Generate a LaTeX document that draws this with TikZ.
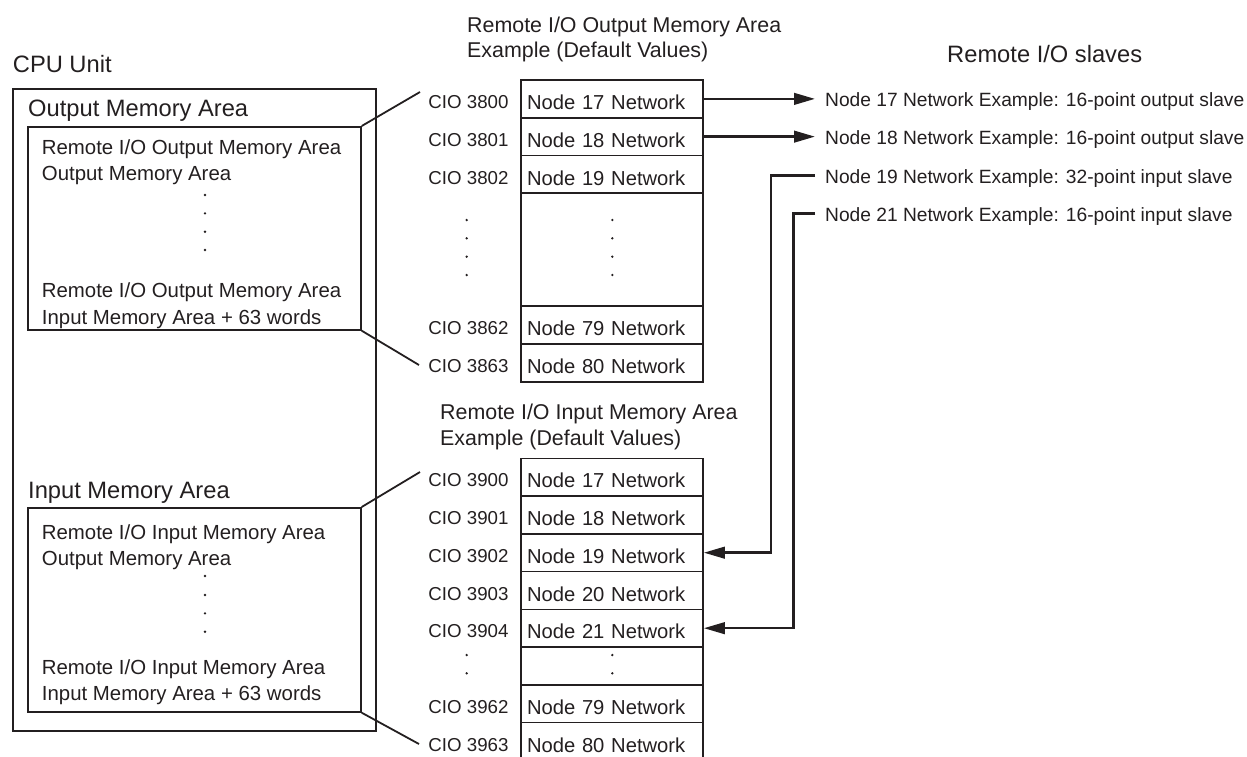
\documentclass[tikz,border=0pt]{standalone}
\usepackage{fontspec}
\setmainfont{Liberation Sans}
\usetikzlibrary{arrows.meta,positioning}
\definecolor{ink}{RGB}{35,31,32}
\newcommand\myfs[1]{\fontsize{#1}{#1}\selectfont}
\begin{document}
\begin{tikzpicture}[x=1pt,y=-1pt,color=ink,
  frame/.style={draw,line width=1.7pt,inner sep=0pt,anchor=north west},
  row/.style={draw,line width=1.6pt,minimum width=182pt,minimum height=37.75pt,
    inner xsep=0pt,inner ysep=0pt,text width=170pt,align=left,
    text height=21.6pt,text depth=0pt,font=\myfs{20.2}},
  cio/.style={inner sep=0pt,text height=19.4pt,text depth=0pt,font=\myfs{18.7},left=11.5pt of #1},
  head/.style={inner sep=0pt,anchor=base west,font=\myfs{23.7}},
  title/.style={inner sep=0pt,anchor=base west,font=\myfs{21.4}},
  inner/.style={inner sep=0pt,anchor=base west,font=\myfs{20.4}},
  slave/.style={anchor=west,inner xsep=10pt,inner ysep=0pt,text height=20pt,text depth=4pt,font=\myfs{19.2}},
  lead/.style={line width=1.8pt},
  conn/.style={line width=2.6pt},
  arr/.style={conn,-{Triangle[length=21pt,width=11.5pt]}},
  dot/.style={fill}
]
\useasboundingbox (0,0) rectangle (1247,756);

% ---------- CPU Unit ----------
\node[head] (cpulab) at (12.7,72) {CPU Unit};
\node[frame,minimum width=363pt,minimum height=642pt] (cpu) at (12,88) {};
\node[head] (outlab) at (28,116.5) {Output Memory Area};
\node[frame,minimum width=333pt,minimum height=203pt] (ib1) at (27,126) {};
\node[inner] (t11) at (41.7,154) {Remote I/O Output Memory Area};
\node[inner] (t12) at (41.7,180.6) {Output Memory Area};
\node[inner] (t13) at (41.7,297.3) {Remote I/O Output Memory Area};
\node[inner] (t14) at (41.7,324) {Input Memory Area + 63 words};
\foreach \y in {195,213.3,231.7,250} \fill[dot] (205,\y) circle (1.3);

\node[head] (inlab) at (28,498.5) {Input Memory Area};
\node[frame,minimum width=333pt,minimum height=204pt] (ib2) at (27,507) {};
\node[inner] (t21) at (41.7,539) {Remote I/O Input Memory Area};
\node[inner] (t22) at (41.7,565) {Output Memory Area};
\node[inner] (t23) at (41.7,674) {Remote I/O Input Memory Area};
\node[inner] (t24) at (41.7,700.6) {Input Memory Area + 63 words};
\foreach \y in {576,595,613.3,631.7} \fill[dot] (205,\y) circle (1.3);

% ---------- Output memory table ----------
\node[title] (ot1) at (467,32.7) {Remote I/O Output Memory Area};
\node[title] (ot2) at (467,57.7) {Example (Default Values)};
\node[row] (o1) at (612,98.875) {Node 17 Network};
\node[row] (o2) at (612,136.625) {Node 18 Network};
\node[row] (o3) at (612,174.375) {Node 19 Network};
\node[row,minimum height=113.25pt] (oD) at (612,249.875) {};
\node[row] (o4) at (612,325.125) {Node 79 Network};
\node[row] (o5) at (612,362.875) {Node 80 Network};
\node[cio=o1] (co1) {CIO 3800};
\node[cio=o2] (co2) {CIO 3801};
\node[cio=o3] (co3) {CIO 3802};
\node[cio=o4] (co4) {CIO 3862};
\node[cio=o5] (co5) {CIO 3863};
\foreach \y in {220,238.3,256.7,275} {
  \fill[dot] (466.7,\y) circle (1.3);
  \fill[dot] (612.3,\y) circle (1.3);
}

% ---------- Input memory table ----------
\node[title] (it1) at (440,419.4) {Remote I/O Input Memory Area};
\node[title] (it2) at (440,445) {Example (Default Values)};
\node[row] (i1) at (612,477.175) {Node 17 Network};
\node[row] (i2) at (612,514.925) {Node 18 Network};
\node[row] (i3) at (612,552.675) {Node 19 Network};
\node[row] (i4) at (612,590.425) {Node 20 Network};
\node[row] (i5) at (612,628.175) {Node 21 Network};
\node[row] (iD) at (612,665.925) {};
\node[row] (i6) at (612,703.675) {Node 79 Network};
\node[row] (i7) at (612,741.425) {Node 80 Network};
\node[cio=i1] (ci1) {CIO 3900};
\node[cio=i2] (ci2) {CIO 3901};
\node[cio=i3] (ci3) {CIO 3902};
\node[cio=i4] (ci4) {CIO 3903};
\node[cio=i5] (ci5) {CIO 3904};
\node[cio=i6] (ci6) {CIO 3962};
\node[cio=i7] (ci7) {CIO 3963};
\foreach \y in {655,673.3} {
  \fill[dot] (466.7,\y) circle (1.3);
  \fill[dot] (612.3,\y) circle (1.3);
}

% ---------- Remote I/O slaves ----------
\node[head] (slab) at (947,62) {Remote I/O slaves};
\node[slave] (s1) at (815,98.875) {Node 17 Network Example: 16-point output slave};
\node[slave] (s2) at (815,136.625) {Node 18 Network Example: 16-point output slave};
\node[slave] (s3) at (815,175.7) {Node 19 Network Example: 32-point input slave};
\node[slave] (s4) at (815,213.3) {Node 21 Network Example: 16-point input slave};

% ---------- leader lines ----------
\coordinate (l1) at (420,92);
\coordinate (l2) at (419,365);
\coordinate (l3) at (420,472);
\coordinate (l4) at (419,744);
\draw[lead] (ib1.north east) -- (l1);
\draw[lead] (ib1.south east) -- (l2);
\draw[lead] (ib2.north east) -- (l3);
\draw[lead] (ib2.south east) -- (l4);

% ---------- connectors ----------
\draw[arr] (o1.east) -- (o1.east -| s1.west);
\draw[arr] (o2.east) -- (o2.east -| s2.west);
\draw[arr] (s3.west) -- ++(-44,0) |- (i3.east);
\draw[arr] (s4.west) -- ++(-21.7,0) |- (i5.east);
\end{tikzpicture}
\end{document}
